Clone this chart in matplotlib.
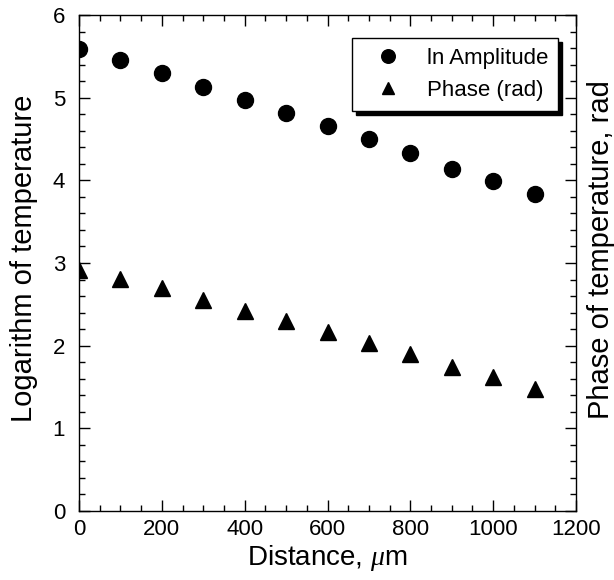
import matplotlib
matplotlib.use("Agg")
import matplotlib.pyplot as plt
from matplotlib.ticker import MultipleLocator

plt.rcParams['font.family'] = ['Liberation Sans', 'DejaVu Sans']
plt.rcParams['mathtext.fontset'] = 'custom'
plt.rcParams['mathtext.it'] = 'Liberation Serif:italic'

## data
distance = [0, 100, 200, 300, 400, 500, 600, 700, 800, 900, 1000, 1100]
ln_amplitude = [5.59, 5.45, 5.30, 5.13, 4.97, 4.81, 4.66, 4.50, 4.33, 4.14, 3.99, 3.83]
phase = [2.91, 2.81, 2.70, 2.55, 2.42, 2.30, 2.16, 2.03, 1.90, 1.74, 1.62, 1.48]

fig = plt.figure(figsize=(6.14, 5.8), dpi=100)
ax = fig.add_axes([79 / 614, 1 - 511 / 580, 497 / 614, 496 / 580])

ax.plot(distance, ln_amplitude, 'o', color='black', markersize=11.5, label='ln Amplitude')
ax.plot(distance, phase, '^', color='black', markersize=11, label='Phase (rad)')

ax.set_xlim(0, 1200)
ax.set_ylim(0, 6)
ax.xaxis.set_major_locator(MultipleLocator(200))
ax.xaxis.set_minor_locator(MultipleLocator(50))
ax.yaxis.set_major_locator(MultipleLocator(1))
ax.yaxis.set_minor_locator(MultipleLocator(0.2))
ax.tick_params(which='both', direction='in', top=True, right=True, labelsize=16, width=1)
ax.tick_params(which='major', length=8)
ax.tick_params(which='minor', length=4)
ax.tick_params(axis='x', which='major', pad=6)
ax.tick_params(axis='y', which='major', pad=10)
for s in ax.spines.values():
    s.set_linewidth(1)

ax.set_xlabel(r'Distance, $\mu$m', fontsize=20, labelpad=2)
# both side labels placed by their centres, in figure pixels
fig.text(24 / 614, 1 - 258 / 580, 'Logarithm of temperature', rotation=90, fontsize=21,
         ha='center', va='center')
fig.text(601 / 614, 1 - 250 / 580, 'Phase of temperature, rad', rotation=90, fontsize=21,
         ha='center', va='center')

leg = ax.legend(loc='upper right', bbox_to_anchor=(0.964, 0.954), fontsize=16,
                frameon=True, fancybox=False, shadow={'color': 'black', 'alpha': 1, 'ox': 3, 'oy': -3},
                edgecolor='black', framealpha=1, handletextpad=0.6, borderpad=0.45,
                borderaxespad=0, markerscale=0.85, handlelength=2.3, labelspacing=0.5)
leg.get_frame().set_linewidth(1)

fig.savefig('out.png', dpi=100)
